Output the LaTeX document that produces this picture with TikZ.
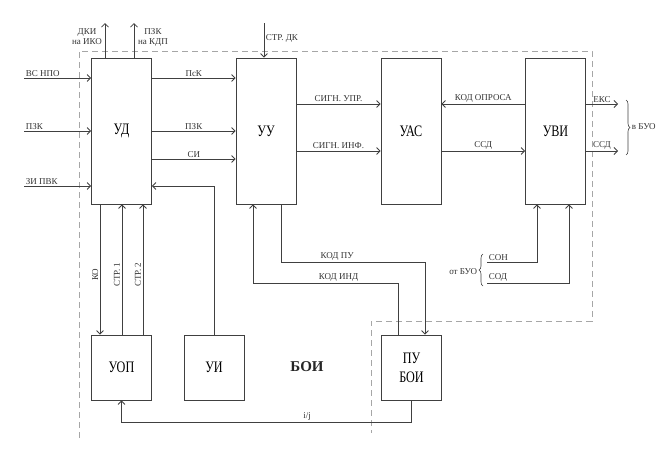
\documentclass[tikz,border=0pt]{standalone}
\usepackage{fontspec}
\setmainfont{Liberation Serif}
\newfontfamily\blokfont[FakeStretch=0.76]{Liberation Serif}
\usetikzlibrary{arrows.meta,positioning,decorations.pathreplacing}
\tikzset{
  blok/.style={rectangle,draw,minimum width=60pt,minimum height=146pt,inner sep=0pt,
    font=\blokfont\fontsize{16}{19}\selectfont},
  malblok/.style={blok,minimum height=65pt},
  lbl/.style={font=\fontsize{9}{10}\selectfont,inner sep=1.5pt,text=black!80},
  ramka/.style={draw=black!35,dash pattern=on 6pt off 4pt,line width=0.7pt},
  skobka/.style={decorate,decoration={brace,amplitude=4pt}},
}
\begin{document}
\begin{tikzpicture}[x=1pt,y=-1pt,>={Straight Barb[length=3.5pt,width=7pt]},line width=0.8pt,draw=black!75]
      \useasboundingbox (0,0) rectangle (666,451);

      % граница БОИ
      \draw[ramka] (79,438) -- (79,51) -- (592,51) -- (592,321) -- (371,321) -- (371,433);

      % блоки
      \node[blok] (ud) at (121.5,131) {УД};
      \node[blok] (uu) at (266,131) {УУ};
      \node[blok] (uas) at (411,131) {УАС};
      \node[blok] (uvi) at (555.5,131) {УВИ};
      \node[malblok] (uop) at (121.5,367.5) {УОП};
      \node[malblok] (ui) at (214,367.5) {УИ};
      \node[malblok,align=center] (puboi) at (411.5,367.5) {ПУ\\БОИ};
      \node[font=\fontsize{15}{18}\selectfont\bfseries,text=black!85] (boi) at (307,367) {БОИ};

      % свободные концы
      \coordinate (vsnpo) at (24,78);
      \coordinate (pzkvh) at (24,131);
      \coordinate (zipvk) at (24,186);
      \coordinate (dki) at (105,23);
      \coordinate (pzkvyh) at (134,23);
      \coordinate (strdk) at (264,23);
      \coordinate (eks) at (618,104);
      \coordinate (ssdvyh) at (618,151);
      \coordinate (son) at (487,262);
      \coordinate (sod) at (487,283);
      \coordinate (kp) at (281,262);
      \coordinate (ki) at (398,283);

      % входы УД
      \draw[->] (vsnpo) -- node[lbl,above right,pos=0]{ВС НПО} (vsnpo -| ud.west);
      \draw[->] (pzkvh) -- node[lbl,above right,pos=0]{ПЗК} (pzkvh -| ud.west);
      \draw[->] (zipvk) -- node[lbl,above right,pos=0]{ЗИ ПВК} (zipvk -| ud.west);
      \draw[->] (dki |- ud.north) -- (dki);
      \draw[->] (pzkvyh |- ud.north) -- (pzkvyh);
      \node[lbl,align=center] (dkilbl) at (87,37) {ДКИ\\на ИКО};
      \node[lbl,align=center] (pzklbl) at (153,37) {ПЗК\\на КДП};

      % УД -- УУ
      \draw[->] ([yshift=53]ud.east) -- node[lbl,above]{ПсК} ([yshift=53]uu.west);
      \draw[->] (ud.east) -- node[lbl,above]{ПЗК} (uu.west);
      \draw[->] ([yshift=-28]ud.east) -- node[lbl,above]{СИ} ([yshift=-28]uu.west);
      \draw[->] (ui.north) |- ([yshift=-55]ud.east);
      \draw[->] (strdk) -- node[lbl,right,pos=0.45]{СТР. ДК} (strdk |- uu.north);

      % УУ -- УАС -- УВИ
      \draw[->] ([yshift=27]uu.east) -- node[lbl,above]{СИГН. УПР.} ([yshift=27]uas.west);
      \draw[->] ([yshift=-20]uu.east) -- node[lbl,above]{СИГН. ИНФ.} ([yshift=-20]uas.west);
      \draw[->] ([yshift=27]uvi.west) -- node[lbl,above]{КОД ОПРОСА} ([yshift=27]uas.east);
      \draw[->] ([yshift=-20]uas.east) -- node[lbl,above]{ССД} ([yshift=-20]uvi.west);

      % выходы УВИ
      \draw[->] (eks -| uvi.east) -- node[lbl,above]{ЕКС} (eks);
      \draw[->] (ssdvyh -| uvi.east) -- node[lbl,above]{ССД} (ssdvyh);
      \draw[skobka,line width=0.6pt] (626,100) -- (626,155);
      \node[lbl,anchor=west] (vbuo) at (630,127) {в БУО};

      % входы УВИ
      \draw[->] (son) -- node[lbl,above right,pos=0]{СОН} ([xshift=-18.5]uvi.south |- son) -- ([xshift=-18.5]uvi.south);
      \draw[->] (sod) -- node[lbl,above right,pos=0]{СОД} ([xshift=13.5]uvi.south |- sod) -- ([xshift=13.5]uvi.south);
      \draw[skobka,line width=0.6pt] (483,286) -- (483,254);
      \node[lbl,anchor=east] (otbuo) at (479,272) {от БУО};

      % УД -- УОП
      \draw[->] ([xshift=-21.5]ud.south) -- node[lbl,rotate=90,above,pos=0.54]{КО} ([xshift=-21.5]uop.north);
      \draw[->] ([xshift=0.5]uop.north) -- node[lbl,rotate=90,above,pos=0.46]{СТР. 1} ([xshift=0.5]ud.south);
      \draw[->] ([xshift=21.5]uop.north) -- node[lbl,rotate=90,above,pos=0.46]{СТР. 2} ([xshift=21.5]ud.south);

      % УУ -- ПУ БОИ
      \draw[->] ([xshift=15]uu.south) -- (kp) -| node[lbl,above,pos=0.195]{КОД ПУ} ([xshift=13.5]puboi.north);
      \draw[->] ([xshift=-13.5]puboi.north) -- (ki) -| node[lbl,above,pos=0.205]{КОД ИНД} ([xshift=-13]uu.south);
      \draw[->] (puboi.south) -- ++(0,22) -| node[lbl,above,pos=0.18]{i/j} (uop.south);
    \end{tikzpicture}
\end{document}
